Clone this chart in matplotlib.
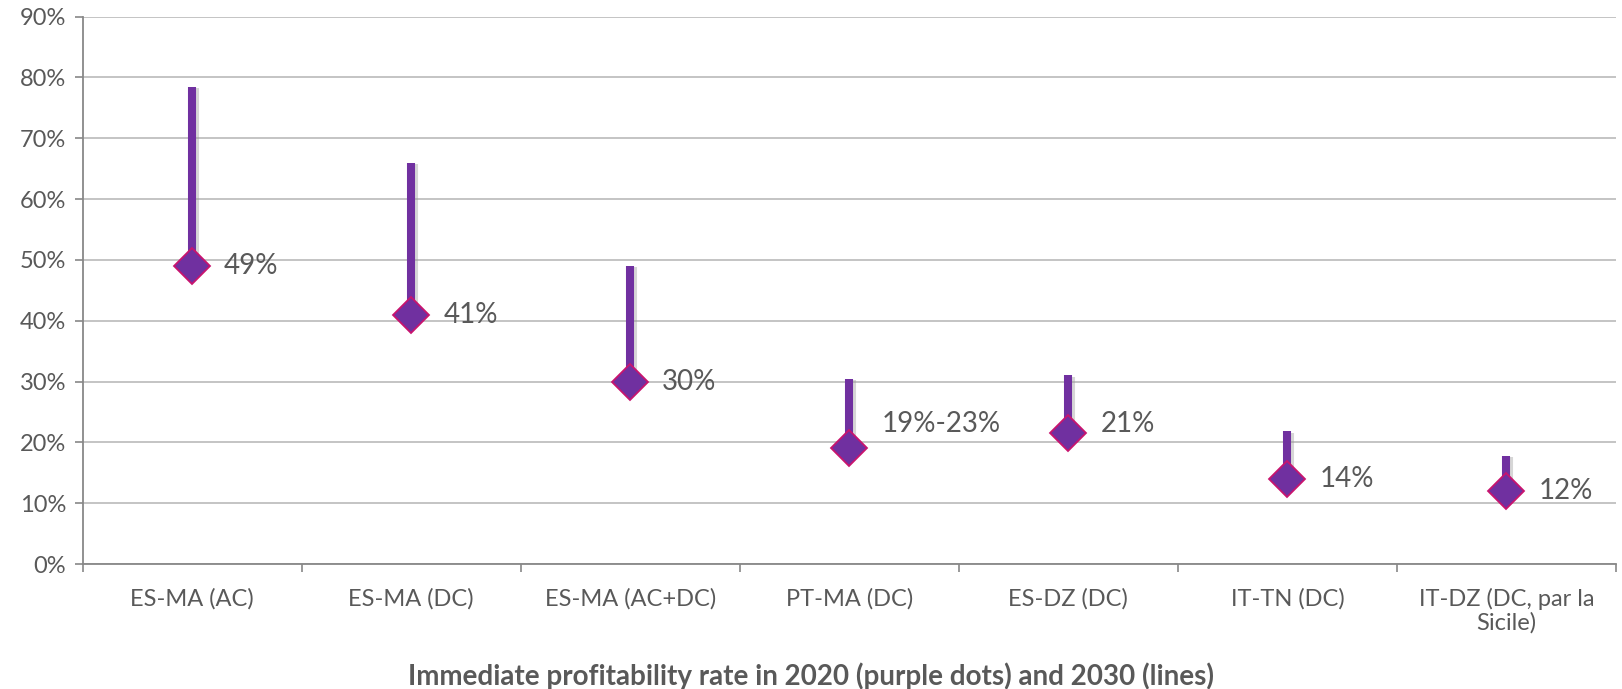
import matplotlib
matplotlib.use('Agg')
import matplotlib.pyplot as plt
import matplotlib.patheffects as pe
import numpy as np

# data (percent)
categories = ['ES-MA (AC)', 'ES-MA (DC)', 'ES-MA (AC+DC)', 'PT-MA (DC)',
              'ES-DZ (DC)', 'IT-TN (DC)', 'IT-DZ (DC, par la\nSicile)']
rate_2020 = [49, 41, 30, 19, 21.5, 14, 12]
rate_2030 = [78.5, 66, 49, 30.5, 31, 21.8, 17.8]
labels = ['49%', '41%', '30%', '19%-23%', '21%', '14%', '12%']
label_y = [49, 41, 30, 23, 23, 14, 12]

PURPLE = '#7030A0'
EDGE = '#C8146E'
GREY = '#595959'

plt.rcParams['font.family'] = ['Lato', 'DejaVu Sans']

fig = plt.figure(figsize=(16.22, 6.89), dpi=100)
ax = fig.add_axes([0.051, 0.1814, 0.9453, 0.7945])

x = np.arange(len(categories))

# 2030 lines, from the 2020 value up
for xi, lo, hi in zip(x, rate_2020, rate_2030):
    ln, = ax.plot([xi, xi], [lo, hi], color=PURPLE, lw=5.8,
                  solid_capstyle='butt', zorder=3)
    ln.set_path_effects([pe.SimpleLineShadow(offset=(2, -1), shadow_color='#999999',
                                             alpha=0.4), pe.Normal()])

# 2020 dots
ax.plot(x, rate_2020, linestyle='none', marker='D', markersize=18,
        markerfacecolor=PURPLE, markeredgecolor=EDGE, markeredgewidth=1.3, zorder=4)

for xi, ly, txt in zip(x, label_y, labels):
    ax.annotate(txt, (xi, ly), xytext=(23, 0), textcoords='offset points',
                ha='left', va='center', fontsize=20, color=GREY)

ax.set_xlim(-0.5, len(categories) - 0.5)
ax.set_ylim(0, 90)
ax.set_yticks(np.arange(0, 91, 10))
ax.set_yticklabels([f'{v}%' for v in range(0, 91, 10)])
ax.yaxis.grid(True, color='#BFBFBF', lw=1.3)
ax.set_axisbelow(True)

ax.set_xticks(x)
ax.set_xticklabels(categories, ha='center', linespacing=1.12)
ax.set_xticks(np.arange(-0.5, len(categories), 1), minor=True)
ax.tick_params(axis='x', which='major', length=0, pad=17, labelsize=17, labelcolor=GREY)
ax.tick_params(axis='x', which='minor', length=6, width=1.2, color='#888888', direction='out')
ax.tick_params(axis='y', length=6, width=1.2, color='#888888', labelsize=17,
               labelcolor=GREY, pad=6)

for s in ['top', 'right']:
    ax.spines[s].set_visible(False)
for s in ['left', 'bottom']:
    ax.spines[s].set_color('#888888')
    ax.spines[s].set_linewidth(1.3)

fig.text(0.5, 0.019, 'Immediate profitability rate in 2020 (purple dots) and 2030 (lines)',
         ha='center', va='center', fontsize=20, fontweight='bold', color=GREY)

fig.savefig('out.png', dpi=100, facecolor='white')
